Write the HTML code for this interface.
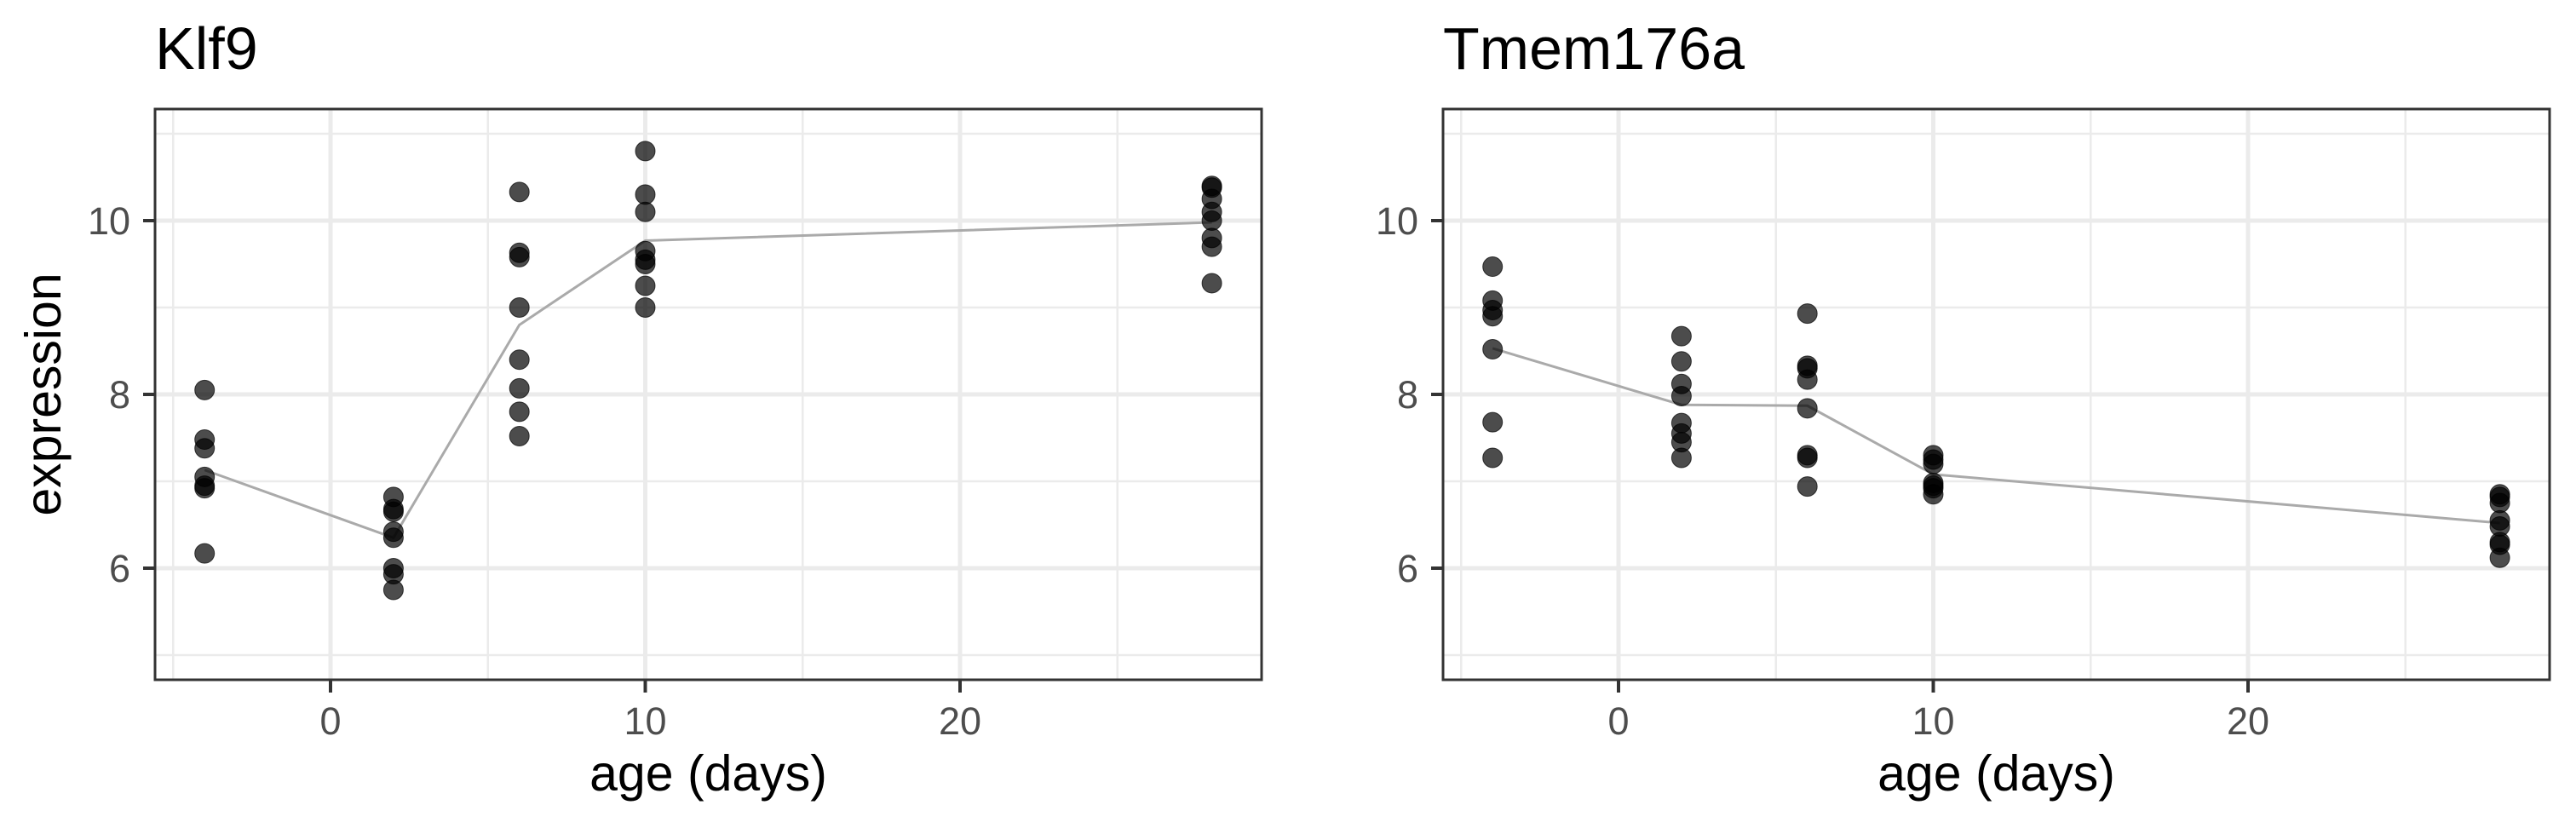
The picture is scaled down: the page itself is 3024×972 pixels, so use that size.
<!DOCTYPE html>
<html><head><meta charset="utf-8"><style>
html,body{margin:0;padding:0;background:#fff;}
svg{display:block;font-family:"Liberation Sans",Arial,sans-serif;}
</style></head>
<body>
<svg id="chart" width="3024" height="972" viewBox="0 0 3024 972" xmlns="http://www.w3.org/2000/svg"></svg>
<script>
const panelTitles = ["Klf9", "Tmem176a"];
const ages = [-4, 2, 6, 10, 28];
const klf9Points = [
  [8.05, 7.48, 7.38, 7.05, 6.95, 6.92, 6.17],
  [6.82, 6.68, 6.65, 6.42, 6.35, 6.0, 5.93, 5.75],
  [10.33, 9.63, 9.58, 9.0, 8.4, 8.07, 7.8, 7.52],
  [10.8, 10.3, 10.1, 9.65, 9.55, 9.5, 9.25, 9.0],
  [10.4, 10.38, 10.25, 10.1, 10.0, 9.8, 9.7, 9.28]
];
const klf9Means = [7.13, 6.35, 8.8, 9.77, 9.98];
const tmemPoints = [
  [9.47, 9.08, 8.97, 8.9, 8.52, 7.68, 7.27],
  [8.67, 8.38, 8.12, 7.98, 7.67, 7.55, 7.45, 7.27],
  [8.93, 8.33, 8.3, 8.17, 7.84, 7.3, 7.27, 6.94],
  [7.3, 7.25, 7.2, 6.98, 6.95, 6.92, 6.85],
  [6.85, 6.82, 6.75, 6.55, 6.48, 6.3, 6.27, 6.12]
];
const tmemMeans = [8.53, 7.88, 7.87, 7.08, 6.52];
const xTicks = [0, 10, 20];
const xMinor = [-5, 5, 15, 25];
const yTicks = [6, 8, 10];
const yMinor = [5, 7, 9, 11];

const NS = "http://www.w3.org/2000/svg";
const svg = document.getElementById("chart");
function mk(tag, attrs, parent) {
  const e = document.createElementNS(NS, tag);
  for (const k in attrs) e.setAttribute(k, attrs[k]);
  (parent || svg).appendChild(e);
  return e;
}
const PW = 1299, PT = 128, PB = 798;
const X0 = 182;
function makeX(off) { return v => off + 388 + (v - 0) * 36.95; }
function yS(v) { return 259 + (10 - v) * 102; }

const allPoints = [klf9Points, tmemPoints];
const allMeans = [klf9Means, tmemMeans];

for (let p = 0; p < 2; p++) {
  const off = p * 1512;
  const xS = makeX(off);
  const L = X0 + off, R = L + PW;
  const g = mk("g", {});
  
  

  const t = mk("text", {x: L, y: 81, "font-size": 70, fill: "#000"}, g);
  t.textContent = panelTitles[p];
  
  

  yMinor.forEach(v => {
    const l = mk("line", {x1: L, x2: R, y1: yS(v), y2: yS(v), stroke: "#ebebeb", "stroke-width": 2.5}, g);
    
    
  });
  xMinor.forEach(v => {
    const l = mk("line", {x1: xS(v), x2: xS(v), y1: PT, y2: PB, stroke: "#ebebeb", "stroke-width": 2.5}, g);
    
    
  });
  yTicks.forEach(v => {
    const l = mk("line", {x1: L, x2: R, y1: yS(v), y2: yS(v), stroke: "#ebebeb", "stroke-width": 5}, g);
    
    
  });
  xTicks.forEach(v => {
    const l = mk("line", {x1: xS(v), x2: xS(v), y1: PT, y2: PB, stroke: "#ebebeb", "stroke-width": 5}, g);
    
    
  });

  const means = allMeans[p];
  const pl = mk("polyline", {points: ages.map((a, i) => xS(a) + "," + yS(means[i])).join(" "), fill: "none", stroke: "#aaaaaa", "stroke-width": 3}, g);
  
  

  const pts = allPoints[p];
  ages.forEach((a, i) => {
    pts[i].forEach(v => {
      const c = mk("circle", {cx: xS(a), cy: yS(v), r: 11.5, fill: "#000", "fill-opacity": 0.7, stroke: "#000", "stroke-opacity": 0.7, "stroke-width": 1}, g);
      
      
    });
  });

  const b = mk("rect", {x: L, y: PT, width: PW, height: PB - PT, fill: "none", stroke: "#333", "stroke-width": 3}, g);
  
  

  yTicks.forEach(v => {
    const tk = mk("line", {x1: L - 14, x2: L, y1: yS(v), y2: yS(v), stroke: "#333", "stroke-width": 4}, g);
    
    
    const tl = mk("text", {x: L - 29, y: yS(v) + 16, "font-size": 45, fill: "#4d4d4d", "text-anchor": "end"}, g);
    tl.textContent = v;
    
    
  });
  xTicks.forEach(v => {
    const tk = mk("line", {x1: xS(v), x2: xS(v), y1: PB, y2: PB + 15, stroke: "#333", "stroke-width": 4}, g);
    
    
    const tl = mk("text", {x: xS(v), y: 862, "font-size": 45, fill: "#4d4d4d", "text-anchor": "middle"}, g);
    tl.textContent = v;
    
    
  });
  const xt = mk("text", {x: (L + R) / 2, y: 928, "font-size": 59, fill: "#000", "text-anchor": "middle"}, g);
  xt.textContent = "age (days)";
  
  
}
const yt = mk("text", {x: 0, y: 0, "font-size": 59, fill: "#000", "text-anchor": "middle", transform: "translate(71,463) rotate(-90)"});
yt.textContent = "expression";


</script>
</body></html>
